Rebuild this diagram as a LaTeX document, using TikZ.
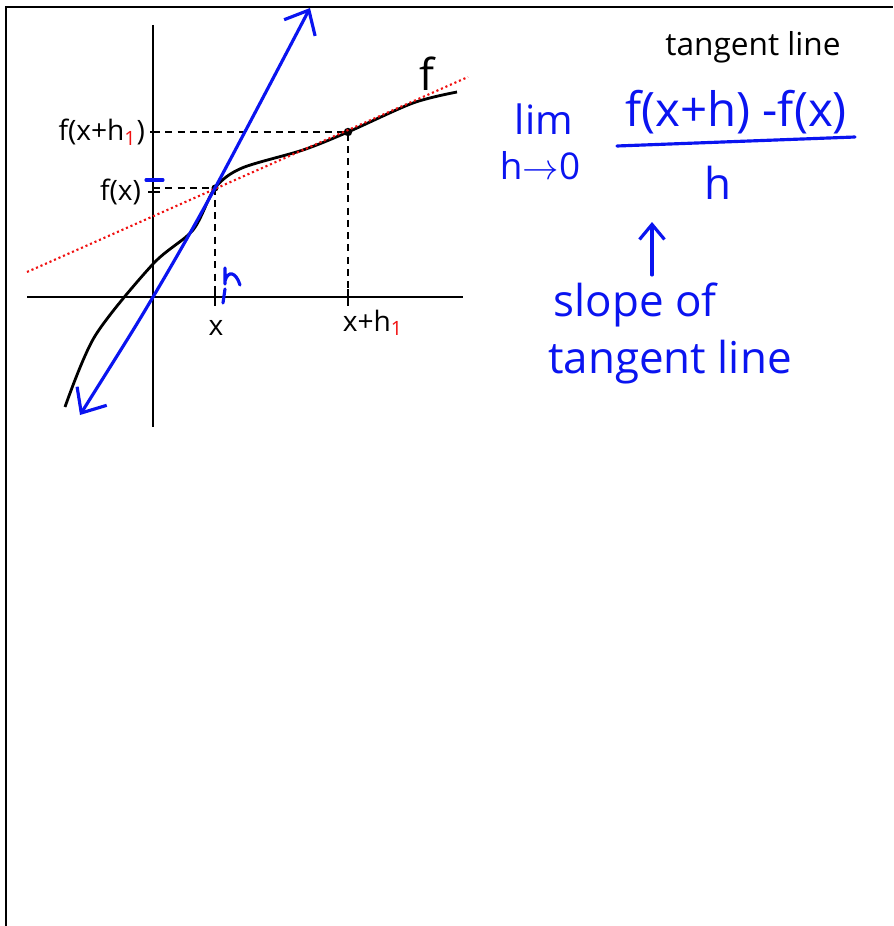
\documentclass[tikz,border=0pt]{standalone}
\usepackage{fontspec}
\setmainfont{Open Sans}
\usetikzlibrary{arrows.meta,positioning}
\definecolor{inkblue}{HTML}{0A14F0}
\definecolor{inkred}{HTML}{F01010}
\tikzset{
  axisLine/.style={line width=1.6pt, draw=black},
  guideLine/.style={line width=1.1pt, dash pattern=on 4pt off 3pt},
  inkStroke/.style={line width=1.8pt, draw=inkblue, line cap=round},
  tanArrow/.style={inkStroke, {Straight Barb[length=4mm,width=7mm]}-{Straight Barb[length=4mm,width=7mm]}},
  graphLabel/.style={font=\fontsize{16}{18}\selectfont, inner sep=1pt},
  noteText/.style={text=inkblue, font=\fontsize{25}{28}\selectfont, inner sep=0pt}
}

\begin{document}
\begin{tikzpicture}[x=0.02cm,y=-0.02cm]
  \useasboundingbox (0,0) rectangle (893,926);
  % page frame (top and left only)
  \draw[line width=1.6pt] (6,926) -- (6,7) -- (893,7);

  % axes
  \draw[axisLine] (27,297) -- (463,297);
  \draw[axisLine] (153,25) -- (153,427);

  \coordinate (P) at (215,188);
  \coordinate (Q) at (348,132);
  \coordinate (Py) at (153,188);
  \coordinate (Px) at (215,297);
  \coordinate (Qy) at (153,132);
  \coordinate (Qx) at (348,297);

  % guides and ticks
  \draw[guideLine] (Qy) -- (Q) -- (Qx);
  \draw[guideLine] (Py) -- (P) -- (Px);
  \draw[axisLine] (215,289) -- (215,306);
  \draw[axisLine] (348,289) -- (348,306);
  \draw[axisLine] (148,192) -- (160,192);
  \draw[axisLine] (150,132) -- (158,132);

  % the function
  \draw[line width=1.6pt] plot[smooth] coordinates {(65,407) (95,336) (153,264) (193,230) (215,188) (242,168) (303,150) (348,132) (413,103) (457,92)};
  \fill (Q) circle (2.4pt);
  \fill (P) circle (2pt);

  % secant line
  \draw[inkred, line width=1.2pt, dash pattern=on 1.2pt off 1.6pt] (27,272) -- (468,77);

  % tangent line
  \draw[tanArrow] plot[smooth] coordinates {(80,415) (153,297) (215,188) (310,8)};
  \draw[inkStroke] (146,180) -- (163,180);
  \draw[inkStroke] (223,303) -- (225,289);
  \draw[inkStroke] (225,268) -- (225,284) (225,281) .. controls (228,270) and (236,272) .. (240,285);

  % labels on the graph
  \node[graphLabel, anchor=east] (fxhLbl) at (147,132) {f(x+h\textsubscript{\textcolor{inkred}{1}})};
  \node[graphLabel, anchor=east] (fxLbl) at (143,192) {f(x)};
  \node[graphLabel] (xLbl) at (216,328) {x};
  \node[graphLabel] (xhLbl) at (373,323) {x+h\textsubscript{\textcolor{inkred}{1}}};
  \node[font=\fontsize{25}{28}\selectfont] (fLbl) at (427,74) {f};

  % limit formula
  \node[font=\fontsize{18}{20}\selectfont] (tanTitle) at (753,47) {tangent line};
  \node[noteText, font=\fontsize{23}{26}\selectfont] (limTxt) at (544,119) {lim};
  \node[noteText, font=\fontsize{21}{24}\selectfont] (limSub) at (540,166) {h\(\rightarrow\)0};
  \node[noteText, font=\fontsize{27}{30}\selectfont] (numer) at (736,112) {f(x+h) -f(x)};
  \coordinate (fracL) at (617,146);
  \coordinate (fracR) at (855,137);
  \draw[inkStroke] (fracL) -- (fracR);
  \node[noteText] (denom) at (718,183) {h};

  \node[noteText] (slopeTxt) at (635,305) {slope of};
  \node[noteText, anchor=west] (tanTxt) at (548,362) {tangent line};
  \coordinate (arrowBase) at (652,275);
  \coordinate (arrowTip) at (652,222);
  \draw[inkStroke, -{Straight Barb[length=3mm,width=5mm]}] (arrowBase) -- (arrowTip);
\end{tikzpicture}
\end{document}
